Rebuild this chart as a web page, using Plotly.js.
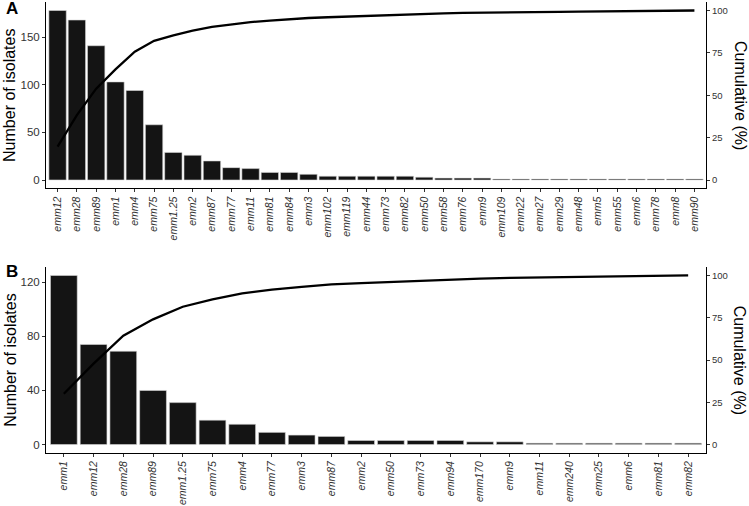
<!DOCTYPE html>
<html>
<head>
<meta charset="utf-8">
<script src="https://cdn.plot.ly/plotly-3.0.1.min.js"></script>
<style>
  body { margin: 0; background: #fff; }
  #myPlot { width: 749px; height: 506px; }
</style>
</head>
<body>
<div id="myPlot"></div>
<script>
// panel A: emm types, number of isolates
var catsA = ["emm12", "emm28", "emm89", "emm1", "emm4", "emm75", "emm1.25", "emm2", "emm87", "emm77",
    "emm11", "emm81", "emm84", "emm3", "emm102", "emm119", "emm44", "emm73", "emm82", "emm50",
    "emm58", "emm76", "emm9", "emm109", "emm22", "emm27", "emm29", "emm48", "emm5", "emm55",
    "emm6", "emm78", "emm8", "emm90"];
var countsA = [178, 168, 141, 103, 94, 58, 29, 26, 20, 13,
    12, 8, 8, 6, 4, 4, 4, 4, 4, 3,
    2, 2, 2, 1, 1, 1, 1, 1, 1, 1,
    1, 1, 1, 1];

// panel B
var catsB = ["emm1", "emm12", "emm28", "emm89", "emm1.25", "emm75", "emm4", "emm77", "emm3", "emm87",
    "emm2", "emm50", "emm73", "emm94", "emm170", "emm9", "emm11", "emm240", "emm25", "emm6",
    "emm81", "emm82"];
var countsB = [125, 74, 69, 40, 31, 18, 15, 9, 7, 6,
    3, 3, 3, 3, 2, 2, 1, 1, 1, 1,
    1, 1];

var ticksA = [0, 50, 100, 150];
var ticksB = [0, 40, 80, 120];
var ticksPct = [0, 25, 50, 75, 100];

// running total as percent of all isolates
function cumPct(arr) {
    var total = 0;
    for (var i = 0; i < arr.length; i++) total += arr[i];
    var run = 0;
    var out = [];
    for (var j = 0; j < arr.length; j++) {
        run += arr[j];
        out.push(run / total * 100);
    }
    return out;
}

var FONT = "Liberation Sans, Arial, Helvetica, sans-serif";
var barFill = "#141414";
var tickGrey = "#333";

function barTrace(cats, vals, xa, ya) {
    return {
        type: "bar", x: cats, y: vals, xaxis: xa, yaxis: ya, width: 0.9,
        marker: { color: barFill, line: { color: "#d9d9d9", width: 0.6 } },
        hoverinfo: "skip"
    };
}
function lineTrace(cats, vals, xa, ya) {
    return {
        type: "scatter", mode: "lines", x: cats, y: cumPct(vals), xaxis: xa, yaxis: ya,
        line: { color: "#000", width: 2.3 },
        hoverinfo: "skip"
    };
}

var data = [
    barTrace(catsA, countsA, "x", "y"),
    lineTrace(catsA, countsA, "x", "y2"),
    barTrace(catsB, countsB, "x2", "y3"),
    lineTrace(catsB, countsB, "x2", "y4")
];

function xAxis(n, anchor) {
    return {
        anchor: anchor, type: "category", range: [-0.6, n - 0.4],
        showline: true, linecolor: "#000", linewidth: 1,
        ticks: "outside", ticklen: 3, tickwidth: 1, tickcolor: "#333",
        tickangle: -90, showgrid: false, zeroline: false,
        tickfont: { family: FONT, size: 10.5, color: tickGrey, style: "italic" }
    };
}
function yLeft(domain, maxv, tv, anchor) {
    var pad = maxv * 0.05;
    return {
        domain: domain, anchor: anchor, range: [-pad, maxv + pad],
        tickvals: tv, ticktext: tv.map(String),
        showline: true, linecolor: "#000", linewidth: 1,
        ticks: "outside", ticklen: 3, tickwidth: 1, tickcolor: "#333",
        showgrid: false, zeroline: false,
        tickfont: { family: FONT, size: 11.5, color: tickGrey }
    };
}
function yRight(over, anchor) {
    return {
        overlaying: over, side: "right", anchor: anchor, range: [-5, 105],
        tickvals: ticksPct, ticktext: ticksPct.map(String),
        showline: true, linecolor: "#000", linewidth: 1,
        ticks: "outside", ticklen: 3, tickwidth: 1, tickcolor: "#333",
        showgrid: false, zeroline: false,
        tickfont: { family: FONT, size: 9.5, color: tickGrey }
    };
}

var domA = [0.5865, 1];
var domB = [0, 0.4124];
var midA = (domA[0] + domA[1]) / 2;
var midB = (domB[0] + domB[1]) / 2;

function ann(text, x, y, angle, size, bold) {
    return {
        xref: "paper", yref: "paper", x: x, y: y, text: bold ? "<b>" + text + "</b>" : text,
        textangle: angle, showarrow: false, xanchor: "center", yanchor: "middle",
        font: { family: FONT, size: size, color: "#000" }
    };
}

var layout = {
    width: 749, height: 506,
    margin: { l: 46, r: 43, t: 2, b: 53 },
    paper_bgcolor: "#fff", plot_bgcolor: "#fff",
    showlegend: false, hovermode: false,
    font: { family: FONT },
    xaxis: xAxis(catsA.length, "y"),
    yaxis: yLeft(domA, countsA[0], ticksA, "x"),
    yaxis2: yRight("y", "x"),
    xaxis2: xAxis(catsB.length, "y3"),
    yaxis3: yLeft(domB, countsB[0], ticksB, "x2"),
    yaxis4: yRight("y3", "x2"),
    annotations: [
        ann("A", -0.052, 0.985, 0, 17, true),
        ann("B", -0.052, 0.402, 0, 17, true),
        ann("Number of isolates", -0.055, midA, -90, 16, false),
        ann("Number of isolates", -0.055, midB, -90, 16, false),
        ann("Cumulative (%)", 1.052, midA, 90, 16, false),
        ann("Cumulative (%)", 1.052, midB, 90, 16, false)
    ]
};

Plotly.newPlot("myPlot", data, layout, { staticPlot: true });
</script>
</body>
</html>
